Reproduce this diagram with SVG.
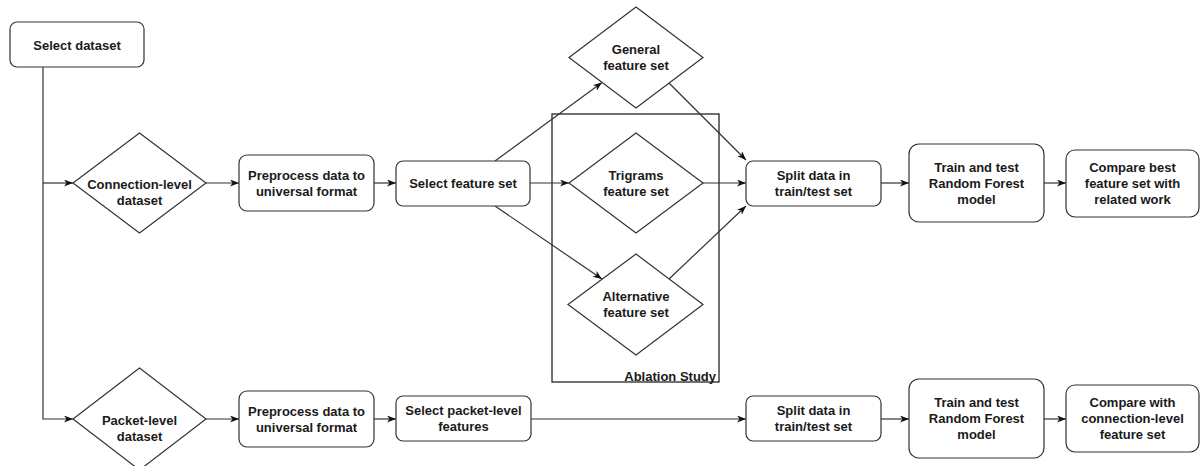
<svg xmlns="http://www.w3.org/2000/svg" width="1201" height="466" viewBox="0 0 1201 466">
<defs>
<marker id="arr" markerUnits="userSpaceOnUse" markerWidth="10" markerHeight="8" refX="9" refY="3.5" orient="auto">
<path d="M0,0 L9,3.5 L0,7 L2.5,3.5 Z" fill="#111"/>
</marker>
<style>
.box{fill:#fff;stroke:#333;stroke-width:1.2}
.dia{fill:#fff;stroke:#333;stroke-width:1.2}
.lbl{font-family:"Liberation Sans",Arial,sans-serif;font-size:13px;font-weight:bold;fill:#1a1a1a;text-anchor:middle;dominant-baseline:central}
.con{fill:none;stroke:#333;stroke-width:1.2}
.arrow{marker-end:url(#arr)}
</style>
</defs>
<rect width="1201" height="466" fill="#fff"/>

<g id="ablation">
<rect x="552" y="114" width="167" height="268" fill="none" stroke="#111" stroke-width="1.2"/>
<text class="lbl" x="716" y="376" style="text-anchor:end">Ablation Study</text>
</g>

<g id="connectors">
<path class="con" d="M43,67 V419 H73" marker-end="url(#arr)"/>
<path class="con arrow" d="M43,183 H73"/>
<path class="con arrow" d="M206,183 H239"/>
<path class="con arrow" d="M374,183 H396"/>
<path class="con arrow" d="M530,183 H569"/>
<path class="con arrow" d="M495,161 L602,82.5"/>
<path class="con arrow" d="M495,206 L602,279"/>
<path class="con arrow" d="M703,183 H746"/>
<path class="con arrow" d="M669,83 L746,160"/>
<path class="con arrow" d="M669,279 L746,206"/>
<path class="con arrow" d="M881,183 H909"/>
<path class="con arrow" d="M1044,183 H1066"/>
<path class="con arrow" d="M206,419 H239"/>
<path class="con arrow" d="M374,419 H396"/>
<path class="con arrow" d="M531,419 H746"/>
<path class="con arrow" d="M881,419 H909"/>
<path class="con arrow" d="M1044,419 H1066"/>
</g>

<g id="select-dataset">
<rect class="box" x="10" y="22" width="134" height="45" rx="7"/>
<text class="lbl" x="77" y="45">Select dataset</text>
</g>

<g id="connection-level">
<polygon class="dia" points="139.5,133 206,183 139.5,233 73,183"/>
<text class="lbl" x="139.5" y="184">Connection-level</text>
<text class="lbl" x="139.5" y="200">dataset</text>
</g>

<g id="preprocess-1">
<rect class="box" x="239" y="155" width="135" height="56" rx="8"/>
<text class="lbl" x="306.5" y="175">Preprocess data to</text>
<text class="lbl" x="306.5" y="191">universal format</text>
</g>

<g id="select-feature-set">
<rect class="box" x="396" y="161" width="134" height="45" rx="7"/>
<text class="lbl" x="463" y="183.5">Select feature set</text>
</g>

<g id="general">
<polygon class="dia" points="636,7 703,57.5 636,108 569,57.5"/>
<text class="lbl" x="636" y="49.5">General</text>
<text class="lbl" x="636" y="65.5">feature set</text>
</g>

<g id="trigrams">
<polygon class="dia" points="636,133 703,183 636,233 569,183"/>
<text class="lbl" x="636" y="175">Trigrams</text>
<text class="lbl" x="636" y="191">feature set</text>
</g>

<g id="alternative">
<polygon class="dia" points="636,254 703,304.5 636,355 568,304.5"/>
<text class="lbl" x="636" y="296.5">Alternative</text>
<text class="lbl" x="636" y="312.5">feature set</text>
</g>

<g id="split-1">
<rect class="box" x="746" y="161" width="135" height="45" rx="7"/>
<text class="lbl" x="813.5" y="175.5">Split data in</text>
<text class="lbl" x="813.5" y="191.5">train/test set</text>
</g>

<g id="train-1">
<rect class="box" x="909" y="144" width="135" height="78" rx="10"/>
<text class="lbl" x="976.5" y="167">Train and test</text>
<text class="lbl" x="976.5" y="183">Random Forest</text>
<text class="lbl" x="976.5" y="199">model</text>
</g>

<g id="compare-1">
<rect class="box" x="1066" y="150" width="133" height="67" rx="9"/>
<text class="lbl" x="1132.5" y="167.5">Compare best</text>
<text class="lbl" x="1132.5" y="183.5">feature set with</text>
<text class="lbl" x="1132.5" y="199.5">related work</text>
</g>

<g id="packet-level">
<polygon class="dia" points="139.5,368 206,419 139.5,470 73,419"/>
<text class="lbl" x="139.5" y="420">Packet-level</text>
<text class="lbl" x="139.5" y="436">dataset</text>
</g>

<g id="preprocess-2">
<rect class="box" x="239" y="391" width="135" height="56" rx="8"/>
<text class="lbl" x="306.5" y="411">Preprocess data to</text>
<text class="lbl" x="306.5" y="427">universal format</text>
</g>

<g id="select-packet">
<rect class="box" x="396" y="396" width="135" height="45" rx="7"/>
<text class="lbl" x="463.5" y="410.5">Select packet-level</text>
<text class="lbl" x="463.5" y="426.5">features</text>
</g>

<g id="split-2">
<rect class="box" x="746" y="396" width="135" height="45" rx="7"/>
<text class="lbl" x="813.5" y="410.5">Split data in</text>
<text class="lbl" x="813.5" y="426.5">train/test set</text>
</g>

<g id="train-2">
<rect class="box" x="909" y="379" width="135" height="79" rx="10"/>
<text class="lbl" x="976.5" y="402.5">Train and test</text>
<text class="lbl" x="976.5" y="418.5">Random Forest</text>
<text class="lbl" x="976.5" y="434.5">model</text>
</g>

<g id="compare-2">
<rect class="box" x="1066" y="385" width="133" height="67" rx="9"/>
<text class="lbl" x="1132.5" y="402.5">Compare with</text>
<text class="lbl" x="1132.5" y="418.5">connection-level</text>
<text class="lbl" x="1132.5" y="434.5">feature set</text>
</g>
</svg>
